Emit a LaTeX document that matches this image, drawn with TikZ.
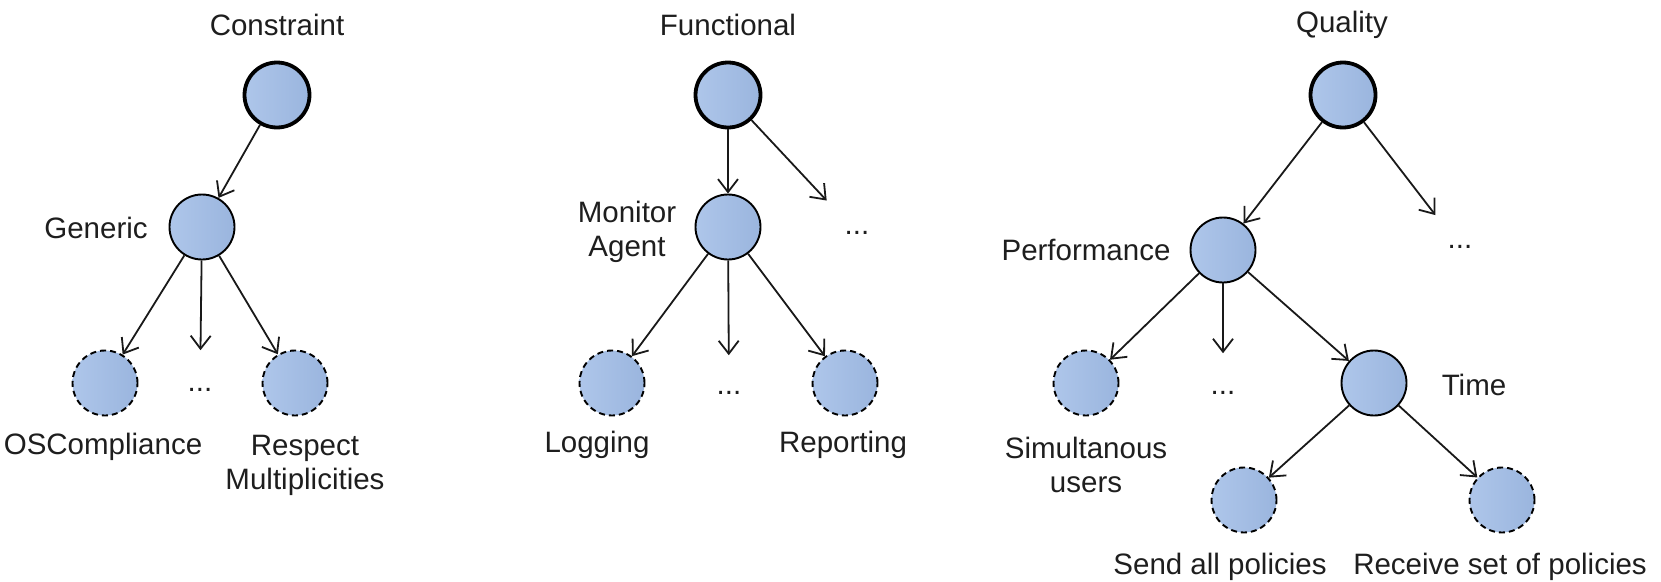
\documentclass[tikz,border=0pt]{standalone}
\usepackage{fontspec}
\setmainfont{Liberation Sans}
\usetikzlibrary{arrows.meta}
\definecolor{nodeA}{RGB}{174,198,234}
\definecolor{nodeB}{RGB}{154,181,222}
\definecolor{txt}{RGB}{30,30,30}
\begin{document}
\begin{tikzpicture}[x=1pt,y=-1pt,
  font=\fontsize{29.5}{34}\selectfont, text=txt,
  goal/.style={circle, inner sep=0pt, minimum size=65pt, draw=black, left color=nodeA, right color=nodeB},
  rootgoal/.style={goal, line width=3.8pt},
  midgoal/.style={goal, line width=1.9pt},
  leafgoal/.style={goal, line width=1.9pt, dash pattern=on 6pt off 4pt},
  lbl/.style={inner sep=0pt, align=center},
  dotsnode/.style={inner sep=0pt},
  edge/.style={draw=black!90, line width=1.8pt, -{Straight Barb[length=13pt,width=20pt,line width=1.8pt]}}
]
\useasboundingbox (0,0) rectangle (1661,581);

% ---- Constraint
\node[lbl] (t1) at (277,25) {Constraint};
\node[rootgoal] (c0) at (277,95) {};
\node[midgoal] (c1) at (202,227) {};
\node[lbl] (c1l) at (96,228) {Generic};
\node[leafgoal] (c11) at (105,383) {};
\node[dotsnode] (cd) at (200,390) {...};
\node[leafgoal] (c12) at (295,383) {};
\node[lbl] (c11l) at (103,447) {OSCompliance};
\node[lbl] (c12l) at (305,465) {Respect\\Multiplicities};
\draw[edge] (c0) -- (c1);
\draw[edge] (c1) -- (c11);
\draw[edge, shorten >=38pt] (c1) -- (cd);
\draw[edge] (c1) -- (c12);

% ---- Functional
\node[lbl] (t2) at (728,25) {Functional};
\node[rootgoal] (f0) at (728,95) {};
\node[midgoal] (f1) at (728,227) {};
\node[lbl] (f1l) at (627,232) {Monitor\\Agent};
\node[dotsnode] (fd0) at (857,233) {...};
\node[leafgoal] (f11) at (612,383) {};
\node[dotsnode] (fd) at (729,393) {...};
\node[leafgoal] (f12) at (845,383) {};
\node[lbl] (f11l) at (597,445) {Logging};
\node[lbl] (f12l) at (843,445) {Reporting};
\draw[edge] (f0) -- (f1);
\draw[edge, shorten >=42pt] (f0) -- (fd0);
\draw[edge] (f1) -- (f11);
\draw[edge, shorten >=36pt] (f1) -- (fd);
\draw[edge] (f1) -- (f12);

% ---- Quality
\node[lbl] (t3) at (1342,25) {Quality};
\node[rootgoal] (q0) at (1343,95) {};
\node[midgoal] (q1) at (1223,250) {};
\node[lbl] (q1l) at (1086,250) {Performance};
\node[dotsnode] (qd0) at (1460,247) {...};
\node[leafgoal] (q11) at (1086,383) {};
\node[dotsnode] (qd) at (1223,393) {...};
\node[midgoal] (q12) at (1374,383) {};
\node[lbl] (q12l) at (1474,385) {Time};
\node[lbl] (q11l) at (1086,465) {Simultanous\\users};
\node[leafgoal] (q121) at (1244,500) {};
\node[leafgoal] (q122) at (1502,500) {};
\node[lbl] (q121l) at (1220,567) {Send all policies};
\node[lbl] (q122l) at (1500,567) {Receive set of policies};
\draw[edge] (q0) -- (q1);
\draw[edge, shorten >=38pt] (q0) -- (qd0);
\draw[edge] (q1) -- (q11);
\draw[edge, shorten >=38pt] (q1) -- (qd);
\draw[edge] (q1) -- (q12);
\draw[edge] (q12) -- (q121);
\draw[edge] (q12) -- (q122);
\end{tikzpicture}
\end{document}
